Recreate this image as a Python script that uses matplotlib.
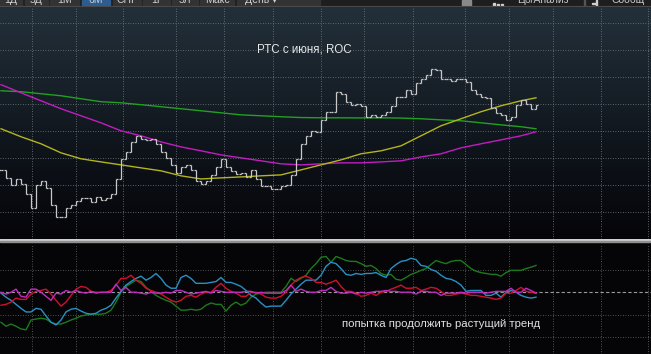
import matplotlib
matplotlib.use("Agg")
import matplotlib.pyplot as plt
import numpy as np
from matplotlib.colors import LinearSegmentedColormap
from matplotlib.patches import Rectangle

plt.rcParams['font.family'] = ['Liberation Sans', 'DejaVu Sans']

# ---------------- data ----------------
title = "РТС с июня, ROC"
note = "попытка продолжить растущий тренд"

close = [1051, 1045, 1040, 1044, 1041, 1033, 1023, 1040, 1043, 1038,
         1025, 1016, 1016, 1023, 1025, 1028, 1030, 1030, 1027, 1031,
         1029, 1030, 1033, 1044, 1059, 1064, 1072, 1076, 1074, 1073,
         1074, 1070, 1064, 1060, 1055, 1049, 1053, 1055, 1051, 1043,
         1041, 1043, 1047, 1053, 1059, 1053, 1050, 1048, 1049, 1046,
         1051, 1044, 1039, 1039, 1037, 1037, 1039, 1040, 1047, 1059,
         1070, 1076, 1080, 1079, 1088, 1094, 1094, 1109, 1107, 1101,
         1099, 1100, 1098, 1090, 1092, 1090, 1092, 1094, 1098, 1105,
         1105, 1110, 1107, 1115, 1118, 1121, 1126, 1125, 1118, 1118,
         1117, 1118, 1118, 1116, 1110, 1107, 1105, 1104, 1097, 1093,
         1092, 1088, 1090, 1099, 1103, 1100, 1096, 1099]

ma_idx = [0, 4, 8, 12, 16, 20, 24, 28, 32, 36, 40, 44, 48, 52, 56, 60, 64,
          68, 72, 76, 80, 84, 88, 92, 96, 100, 104, 107]
ma_long = [1109.6, 1108.9, 1107.4, 1105.9, 1103.7, 1101.5, 1100.7, 1099.3,
           1097.8, 1096.3, 1094.8, 1093.3, 1091.8, 1091.1, 1090.4, 1089.8,
           1089.6, 1089.6, 1089.5, 1089.6, 1089.4, 1088.9, 1088.1, 1087.4,
           1085.9, 1084.4, 1083.0, 1081.5]
ma_mid = [1114.1, 1108.1, 1102.2, 1096.3, 1091.1, 1085.9, 1080.0, 1076.3,
          1071.8, 1068.1, 1065.2, 1062.2, 1060.0, 1057.8, 1055.6, 1054.8,
          1055.6, 1056.3, 1056.3, 1057.0, 1057.8, 1060.7, 1063.0, 1067.4,
          1070.4, 1073.3, 1076.3, 1079.3]
ma_short = [1081.5, 1075.6, 1070.4, 1063.7, 1059.3, 1057.0, 1054.8, 1052.6,
            1050.4, 1046.7, 1044.4, 1045.2, 1045.9, 1046.7, 1047.4, 1051.1,
            1054.8, 1058.5, 1063.0, 1065.2, 1068.9, 1076.3, 1083.7, 1088.9,
            1094.1, 1098.5, 1102.2, 1104.4]

roc_red = [-2.9, -2.7, -2.2, -1.3, -1.6, -1.6, -0.4, 0.2, 0.4, 0.7,
           -0.4, -1.8, -3.1, -2.2, -0.7, 0.7, 1.3, 1.1, 0.2, 0.0,
           0.0, 0.0, 0.4, 1.6, 3.1, 3.1, 3.8, 2.7, 2.0, 0.9,
           0.4, 0.0, -0.4, -1.1, -1.8, -2.2, -1.8, -0.9, -0.7, -1.1,
           -0.4, 0.0, 0.0, 1.1, 2.0, 0.9, 0.2, -0.2, -0.9, -0.9,
           0.0, 0.0, -0.4, -1.1, -1.3, -1.3, -0.9, 0.0, 1.6, 2.7,
           3.3, 3.6, 3.1, 2.2, 2.2, 1.8, 2.2, 2.7, 1.3, 0.2,
           0.2, -0.2, -0.9, -0.7, -0.2, -0.7, 0.0, 0.2, 0.7, 1.1,
           1.6, 0.9, 0.9, 1.1, 0.4, 0.7, 1.1, 0.9, 0.2, -0.7,
           -0.7, -0.4, -0.2, -0.4, -0.7, -0.7, -0.9, -1.1, -1.3, -1.6,
           -1.3, -0.2, -0.2, 0.4, 1.1, 0.2, 0.0, -0.2]
roc_green = [-6.7, -7.6, -7.1, -7.6, -8.2, -8.4, -6.2, -6.0, -5.8, -6.0,
             -6.7, -7.1, -7.1, -6.7, -6.2, -5.8, -5.3, -5.1, -4.9, -4.9,
             -4.9, -4.7, -4.0, -2.2, 0.0, 1.3, 2.0, 2.7, 2.4, 1.1,
             0.2, -0.7, -1.3, -1.8, -2.2, -3.1, -4.0, -4.0, -3.8, -4.0,
             -3.8, -2.9, -2.4, -2.7, -2.7, -4.2, -2.9, -2.2, -2.9, -2.4,
             -1.1, -0.4, -0.2, 0.0, 0.0, 0.0, 0.0, 1.3, 3.1, 2.4,
             3.1, 3.8, 5.3, 6.4, 7.8, 8.0, 6.7, 8.0, 7.6, 7.1,
             6.9, 6.9, 6.4, 5.8, 6.0, 5.3, 4.2, 3.8, 4.0, 2.9,
             2.7, 3.3, 4.0, 4.4, 4.9, 5.3, 6.2, 7.1, 6.7, 6.4,
             6.9, 7.1, 7.1, 6.2, 5.3, 4.7, 4.4, 4.2, 4.0, 4.0,
             3.6, 4.4, 4.9, 4.9, 4.9, 5.3, 5.6, 6.0]
roc_blue = [-0.2, -1.1, -1.8, -2.7, -3.6, -4.4, -4.4, -3.6, -3.8, -5.3,
            -6.7, -7.3, -6.2, -4.4, -3.8, -3.6, -4.2, -4.7, -4.9, -4.7,
            -4.0, -3.6, -2.9, -1.3, 0.2, 1.6, 2.4, 3.1, 3.6, 2.7,
            3.3, 4.2, 3.1, 1.6, 0.9, 0.9, 3.3, 3.8, 3.1, 2.0,
            2.0, 2.0, 2.2, 2.4, 3.3, 2.2, 2.2, 1.8, 1.3, 0.4,
            -0.7, -1.3, -2.4, -3.3, -3.1, -3.1, -3.1, -1.8, -0.4, 0.7,
            1.8, 2.7, 2.7, 2.7, 3.8, 5.8, 6.7, 6.4, 5.3, 4.0,
            3.8, 4.2, 4.0, 4.2, 4.2, 4.4, 3.8, 3.3, 5.3, 6.2,
            6.9, 7.1, 7.6, 7.3, 6.0, 5.8, 5.1, 4.7, 3.8, 3.1,
            2.9, 2.4, 1.6, 0.2, 0.4, 0.4, 0.4, -0.7, -0.7, -0.2,
            -1.1, 0.0, 0.4, 0.0, -0.7, -1.1, -1.3, -1.1]
roc_magenta = [0.0, -0.4, 0.0, 0.7, -0.9, -1.1, 0.7, 0.7, 0.0, -0.9,
               -1.8, -0.2, -0.4, 0.4, 0.0, 0.4, 0.0, -0.2, 0.2, -0.2,
               0.0, 0.0, 0.0, 1.8, 0.4, 1.1, 0.0, 0.0, -0.2, -0.4,
               0.0, -0.2, -0.2, 0.0, -0.2, 0.4, 0.4, 0.0, -0.4, -0.2,
               0.0, 0.2, -0.2, 0.4, 0.2, 0.0, 0.0, 0.0, 0.0, 0.2,
               0.2, -0.2, 0.0, -0.2, -0.2, -0.2, -0.2, 0.4, 1.6, 0.2,
               0.7, 0.2, 0.0, 0.0, 0.4, 0.4, 1.1, 0.2, -0.2, -0.2,
               0.0, -0.4, 0.0, -0.2, 0.0, 0.2, 0.2, 0.4, 0.2, 0.2,
               0.0, 0.0, 0.0, -0.4, 0.2, 0.2, 0.0, 0.0, -0.7, -0.2,
               -0.2, -0.2, 0.0, -0.2, 0.0, 0.0, 0.0, -0.2, 0.0, 0.2,
               0.2, 0.2, 0.9, 0.0, 0.0, 0.9, 0.4, -0.2]

toolbar_left = ["1Д", "5Д", "1М", "6М", "СНГ", "1Г", "5Л", "Макс", "День ▾"]
toolbar_right = ["Цб/Анализ", "Сообщ"]

# ---------------- layout ----------------
W, H = 651, 354
fig = plt.figure(figsize=(W / 100, H / 100), dpi=100)
fig.patch.set_facecolor('#050507')


def px_axes(x0, y0, x1, y1):
    return fig.add_axes([x0 / W, 1 - y1 / H, (x1 - x0) / W, (y1 - y0) / H])


XL = (-0.2, 130.0)
vgrid = [6.2, 15.0, 24.4, 35.0, 44.6, 54.4, 64.0, 72.6, 82.4, 92.8,
         101.6, 110.4, 120.0, 129.4]

# top price panel
ax1 = px_axes(0, 6.5, W, 239)
cmap = LinearSegmentedColormap.from_list(
    'bg', ['#050509', '#0b0e14', '#121921', '#1b252e', '#23303a'])
grad = np.linspace(0, 1, 256).reshape(-1, 1)
ax1.imshow(grad, extent=[0, 1, 0, 1], transform=ax1.transAxes,
           aspect='auto', cmap=cmap, origin='lower', zorder=0)
ax1.set_xlim(*XL)
ax1.set_ylim(1000, 1171.9)
for v in vgrid:
    ax1.axvline(v, color='#777d84', lw=0.6, ls=(0, (1, 2)), zorder=1)
for h in [1020, 1040, 1060, 1080, 1100, 1120, 1140, 1160]:
    ax1.axhline(h, color='#777d84', lw=0.6, ls=(0, (1, 2)), zorder=1)

ax1.plot(ma_idx, ma_long, color='#22a022', lw=1.0, zorder=3)
ax1.plot(ma_idx, ma_mid, color='#c21cc2', lw=1.0, zorder=3)
ax1.plot(ma_idx, ma_short, color='#b4b41e', lw=1.0, zorder=3)

n = len(close)
idx = np.arange(n)
opens = [close[0]] + close[:-1]
lo = np.minimum(opens, close)
hi = np.maximum(opens, close)
ax1.vlines(idx, lo, hi, color='#c9c9c9', lw=0.9, zorder=4)
ax1.hlines(opens, idx - 0.45, idx, color='#c9c9c9', lw=0.9, zorder=4)
ax1.hlines(close, idx, idx + 0.45, color='#c9c9c9', lw=0.9, zorder=4)
ax1.axis('off')

# bottom ROC panel
ax2 = px_axes(0, 243.5, W, H)
ax2.set_facecolor('#050507')
ax2.set_xlim(*XL)
ax2.set_ylim(-13.8, 10.9)
for v in vgrid:
    ax2.axvline(v, color='#6a6a6a', lw=0.6, ls=(0, (1, 2)), zorder=1)
for h in [5, -5, -10]:
    ax2.axhline(h, color='#6a6a6a', lw=0.6, ls=(0, (1, 2)), zorder=1)
ax2.axhline(0, color='#9a9a9a', lw=0.8, ls=(0, (3, 2)), zorder=1)
ax2.plot(idx, roc_green, color='#1b7a1b', lw=1.0, zorder=3)
ax2.plot(idx, roc_blue, color='#2790c4', lw=1.0, zorder=3)
ax2.plot(idx, roc_red, color='#d0102e', lw=1.0, zorder=3)
ax2.plot(idx, roc_magenta, color='#c02cc0', lw=1.0, zorder=4)
ax2.axis('off')

# separator between panels
sep = px_axes(0, 238.5, W, 243.5)
sep.set_xlim(0, 1)
sep.set_ylim(5, 0)
sep.set_facecolor('#050507')
sep.add_patch(Rectangle((0, 0.8), 1, 1.4, color='#cfcfcf'))
sep.add_patch(Rectangle((0, 2.4), 1, 1.3, color='#8f8f8f'))
sep.axis('off')

# toolbar
axt = px_axes(0, 0, W, 6.5)
axt.set_xlim(0, W)
axt.set_ylim(6.5, 0)
axt.add_patch(Rectangle((0, 0), W, 6.5, color='#1e1e1e'))
btn = [(0, 22), (25, 48), (50, 79), (82, 110), (113, 141), (143, 170),
       (172, 198), (200, 234), (237, 320)]
for (a, b), lab in zip(btn, toolbar_left):
    col = '#2c5c90' if lab == "6М" else '#333333'
    axt.add_patch(Rectangle((a, 0), b - a, 5.8, color=col))
    xt = (a + b) / 2 if lab != "День ▾" else a + 8
    axt.text(xt, 3.2, lab, color='#d0d0d0', fontsize=7.5,
             ha='center' if lab != "День ▾" else 'left', va='baseline',
             clip_on=True)
axt.add_patch(Rectangle((462, 0), 9, 5.8, color='#8a8a8a'))
axt.add_patch(Rectangle((493, 2.5), 2, 3, color='#cfcfcf'))
axt.add_patch(Rectangle((497, 3.5), 2, 2, color='#cfcfcf'))
axt.add_patch(Rectangle((501, 4.2), 2, 1.3, color='#cfcfcf'))
axt.text(517, 3.2, toolbar_right[0], color='#c8c8c8', fontsize=7.5,
         ha='left', va='baseline', clip_on=True)
axt.add_patch(Rectangle((584, 0), 1, 6, color='#555555'))
axt.add_patch(Rectangle((592, 2.5), 4, 1.2, color='#cfcfcf'))
axt.add_patch(Rectangle((596, 0), 1.2, 6, color='#cfcfcf'))
axt.text(611, 3.2, toolbar_right[1], color='#c8c8c8', fontsize=7.5,
         ha='left', va='baseline', clip_on=True)
axt.axhline(6.2, color='#4a4a4a', lw=0.8)
axt.axis('off')

# texts
fig.text(304 / W, 1 - 49 / H, title, color='#e6e6e6', fontsize=8.3,
         ha='center', va='center')
fig.text(342 / W, 1 - 324 / H, note, color='#e0e0e0', fontsize=8.2,
         ha='left', va='center')

fig.savefig('out.png', dpi=100, facecolor=fig.get_facecolor())
